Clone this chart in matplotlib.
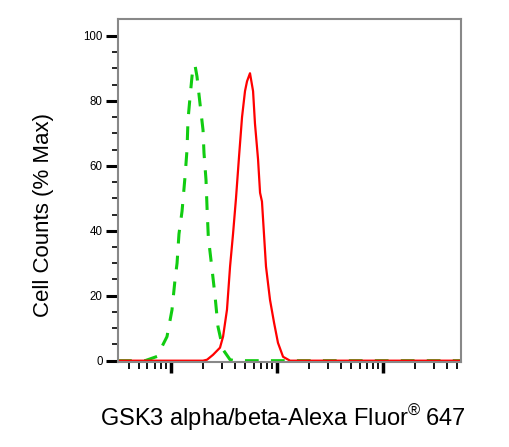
import matplotlib.pyplot as plt
import numpy as np

plt.rcParams["font.family"] = ["Liberation Sans", "DejaVu Sans"]
plt.rcParams["mathtext.fontset"] = "custom"
plt.rcParams["mathtext.rm"] = "Liberation Sans"

# Histogram outlines (x in log10 decades, y in % max)
iso_log = [0.5, 0.755, 0.868, 0.962, 1.009, 1.038, 1.057, 1.075, 1.104, 1.132,
           1.151, 1.160, 1.179, 1.198, 1.208, 1.226, 1.245, 1.274, 1.302, 1.311,
           1.330, 1.340, 1.352, 1.384, 1.415, 1.443, 1.491, 1.557, 1.604, 3.736]
iso_pct = [0, 0, 1.3, 7.4, 15.6, 25, 30, 39, 46, 56.6,
           65, 74, 81, 87.5, 90.5, 91, 87.5, 79, 71, 64,
           55.7, 47, 38, 29, 20, 10.5, 3.4, 0.3, 0, 0]

gsk_log = [0.5, 1.302, 1.340, 1.396, 1.462, 1.491, 1.528, 1.557, 1.585, 1.613,
           1.642, 1.670, 1.698, 1.717, 1.745, 1.774, 1.792, 1.821, 1.840, 1.858,
           1.877, 1.896, 1.934, 1.972, 2.009, 2.057, 2.123, 3.736]
gsk_pct = [0, 0, 0.3, 1.8, 4, 7.4, 15.7, 29, 39, 50,
           63, 75, 83, 86, 88.5, 83, 73, 62, 51.7, 49,
           39, 29, 18.7, 11.7, 5.5, 1.2, 0, 0]

fig = plt.figure(figsize=(5.1, 4.47), dpi=100)
ax = fig.add_axes([0.2314, 0.1902, 0.904 - 0.2314, 0.9575 - 0.1902])

ax.plot(10 ** np.array(iso_log), iso_pct, color="#11cc11", linewidth=2.2,
        dashes=(4.5, 4))
ax.plot(10 ** np.array(gsk_log), gsk_pct, color="#ff0000", linewidth=1.6)

ax.set_xscale("log")
ax.set_xlim(10 ** 0.5, 10 ** 3.736)
ax.set_ylim(-0.4, 105.2)

ax.set_xticks([10, 100, 1000])
ax.set_xticks([m * 10 ** d for d in range(0, 4) for m in range(2, 10)
               if 10 ** 0.5 < m * 10 ** d < 10 ** 3.736], minor=True)
ax.set_xticklabels([])
ax.set_xticklabels([], minor=True)

ax.set_yticks([0, 20, 40, 60, 80, 100])
ax.set_yticks(np.arange(0, 101, 5), minor=True)

ax.tick_params(axis="both", which="major", direction="out", color="black",
               labelsize=8.3, pad=2)
ax.tick_params(axis="x", which="major", length=8, width=2.5)
ax.tick_params(axis="x", which="minor", length=5, width=1.3)
ax.tick_params(axis="y", which="major", length=9, width=2.2)
ax.tick_params(axis="y", which="minor", length=4, width=1.2)

for side in ["left", "right", "top", "bottom"]:
    ax.spines[side].set_color("#888888")
    ax.spines[side].set_linewidth(1.5)

fig.text(0.086, 0.519, "Cell Counts (% Max)", rotation=90, fontsize=16,
         ha="center", va="center")
fig.text(0.554, 0.065, "GSK3 alpha/beta-Alexa Fluor$^{\\mathrm{®}}$\u2009647",
         fontsize=17, ha="center", va="center")

fig.savefig("out.png", dpi=100)
